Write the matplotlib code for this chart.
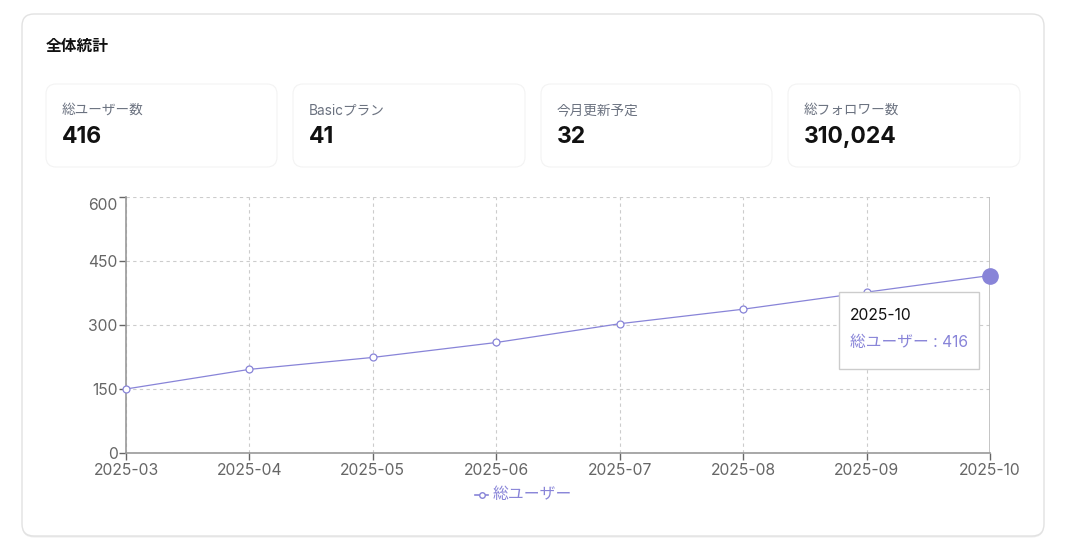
import matplotlib.pyplot as plt
import matplotlib.transforms as mtransforms
from matplotlib.patches import FancyBboxPatch
from matplotlib.lines import Line2D

plt.rcParams['font.family'] = ['Inter', 'Noto Sans CJK JP', 'DejaVu Sans']

months = ["2025-03", "2025-04", "2025-05", "2025-06",
          "2025-07", "2025-08", "2025-09", "2025-10"]
total_users = [150, 196, 224, 259, 303, 337, 377, 416]

card_labels = ["総ユーザー数", "Basicプラン", "今月更新予定", "総フォロワー数"]
card_values = ["416", "41", "32", "310,024"]

yticks = [0, 150, 300, 450, 600]
series_name = "総ユーザー"
purple = "#8884d8"

W, H = 1074, 553
fig = plt.figure(figsize=(W / 100, H / 100), dpi=100)
fig.patch.set_facecolor("white")


def fx(px):
    return px / W


def fy(py):
    return 1 - py / H


def box(x0, y0, x1, y1, r, ec, lw, shadow=False):
    if shadow:
        s = FancyBboxPatch((fx(x0), fy(y1 + 1.5)), fx(x1 - x0), (y1 - y0) / H,
                           boxstyle=f"round,pad=0,rounding_size={r / W}",
                           transform=fig.transFigure, fc="#ececec", ec="none",
                           mutation_aspect=W / H, zorder=0.5)
        fig.patches.append(s)
    p = FancyBboxPatch((fx(x0), fy(y1)), fx(x1 - x0), (y1 - y0) / H,
                       boxstyle=f"round,pad=0,rounding_size={r / W}",
                       transform=fig.transFigure, fc="white", ec=ec, lw=lw,
                       mutation_aspect=W / H, zorder=0.6)
    fig.patches.append(p)


# outer card
box(22, 14, 1044, 536, 12, "#e2e2e2", 1.0, shadow=True)
fig.text(fx(46), fy(46), "全体統計", fontsize=11.3, fontweight="bold",
         color="#111111", va="center", ha="left")

# stat cards
card_x = [(46, 277), (293, 525), (541, 772), (788, 1020)]
for (x0, x1), lab, val in zip(card_x, card_labels, card_values):
    box(x0, 84, x1, 167, 10, "#f3f3f3", 0.8, shadow=True)
    fig.text(fx(x0 + 16), fy(110), lab, fontsize=9.8, color="#6b7280",
             va="center", ha="left")
    fig.text(fx(x0 + 16), fy(137), val, fontsize=16.5, fontweight="bold",
             color="#111111", va="center", ha="left")

# chart
ax = fig.add_axes([fx(126), fy(453), fx(990 - 126), (453 - 197) / H])
ax.set_zorder(5)
ax.patch.set_alpha(0)
x = list(range(len(months)))
ax.plot(x, total_users, color=purple, lw=0.9, marker="o", ms=5,
        mfc="white", mec=purple, mew=0.9, zorder=3, clip_on=False)
ax.plot(x[-1], total_users[-1], "o", color=purple, ms=11, zorder=4,
        clip_on=False)

ax.set_xlim(0, len(months) - 1)
ax.set_ylim(0, 600)
ax.set_xticks(x)
ax.set_xticklabels(months)
ax.set_yticks(yticks)
ax.grid(True, color="#cccccc", ls=(0, (3, 3)), lw=0.8)
ax.axvline(x[-1], color="#bbbbbb", lw=1.2, zorder=2)
for s in ["top", "right"]:
    ax.spines[s].set_visible(False)
for s in ["left", "bottom"]:
    ax.spines[s].set_color("#999999")
    ax.spines[s].set_linewidth(1.2)
ax.tick_params(colors="#666666", labelsize=11.3, length=5, width=1)
ax.tick_params(axis="x", pad=2)
ax.tick_params(axis="y", pad=1)
for lbl in ax.get_xticklabels() + ax.get_yticklabels():
    lbl.set_color("#666666")
# top y label sits a little below its tick, as in the source chart
top_lbl = ax.get_yticklabels()[-1]
top_lbl.set_transform(top_lbl.get_transform() +
                      mtransforms.ScaledTranslation(0, -7 / 100, fig.dpi_scale_trans))

# tooltip
tip = FancyBboxPatch((fx(839), fy(369)), fx(979 - 839), (369 - 292) / H,
                     boxstyle="square,pad=0", transform=fig.transFigure,
                     fc="white", ec="#cccccc", lw=1, zorder=10)
fig.patches.append(tip)
fig.text(fx(850), fy(315), months[-1], fontsize=11.3, color="#111111",
         va="center", ha="left", zorder=11)
fig.text(fx(850), fy(343), f"{series_name} : {total_users[-1]}", fontsize=11.3,
         color=purple, va="center", ha="left", zorder=11)

# legend
fig.lines.append(Line2D([fx(475), fx(488)], [fy(495), fy(495)],
                        transform=fig.transFigure, color=purple, lw=1.2,
                        zorder=6))
fig.lines.append(Line2D([fx(481.5)], [fy(495)], transform=fig.transFigure,
                        marker="o", ms=4, mfc="white", mec=purple, mew=1,
                        zorder=7))
fig.text(fx(493), fy(495), series_name, fontsize=11.4, color=purple,
         va="center", ha="left")

fig.savefig("out.png", dpi=100)
